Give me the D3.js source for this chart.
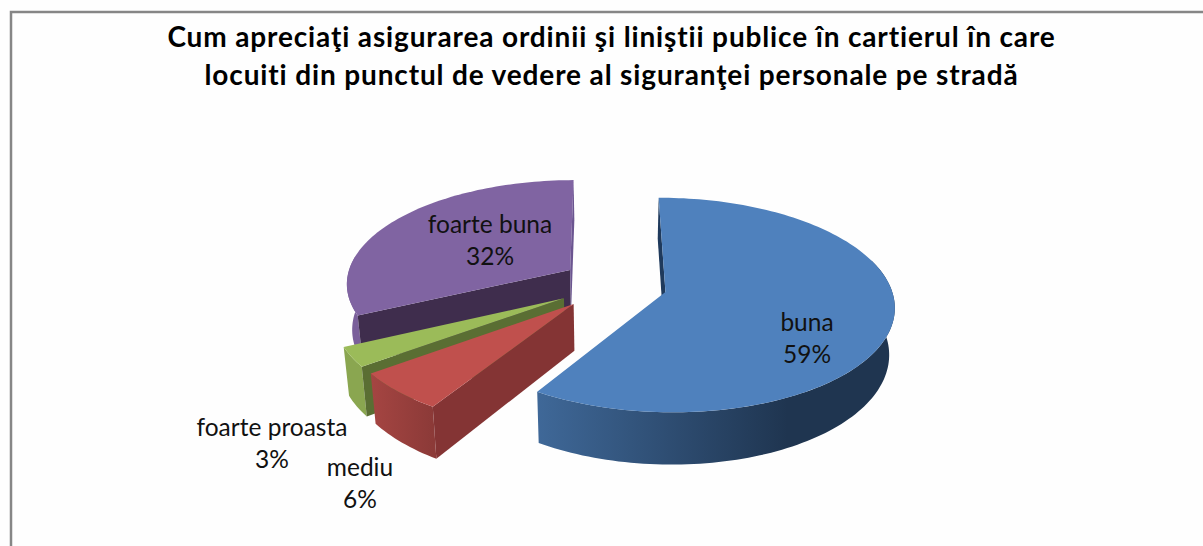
<!DOCTYPE html>
<html><head><meta charset="utf-8">
<script src="https://cdn.jsdelivr.net/npm/d3@7"></script>
<style>html,body{margin:0;padding:0;background:#fefefe}svg{display:block}text{font-variant-ligatures:none}</style></head>
<body><div id="c"></div>
<script>
const categories = ["buna","mediu","foarte proasta","foarte buna"];
const percents = [59,6,3,32];
const titleLines = ["Cum apreciaţi asigurarea ordinii şi liniştii publice în cartierul în care","locuiti din punctul de vedere al siguranţei personale pe stradă"];
const topColors = ["#4f81bd","#c0504d","#9bbb59","#8064a2"];
const rimColorsA = ["#3f6898","#a54542","#8aa650","#7a5f9a"];
const rimColorsB = ["#1f3550","#8c3a38","#8aa650","#7a5f9a"];
const wallColors = ["#1f3a5c","#843434","#5a6e33","#3f2d4d"];
const explode = [0.245,0.245,0.245,0.24];
const nudge = [[0,0],[0,0],[0,0],[0.014,0.02]];
const labelPos = [[807,331],[360,476],[272,436],[490,233]];

const W=1203,H=546;
const svg=d3.select("#c").append("svg").attr("width",W).attr("height",H);
const defs=svg.append("defs");
svg.append("rect").attr("width",W).attr("height",H).attr("fill","#fefefe");
svg.append("path").attr("d",`M11 546V12H1203`).attr("fill","none").attr("stroke","#868686").attr("stroke-width",2.5);

const cx=612,cy=285,a=225,b=104,k=0.12,d=45.6,m=0.02;
function proj(u,v,z){const w=1+k*v;return [cx+a*u/w*(1-m*z), cy+(-b*v+d*z)/w];}
const pie=d3.pie().sort(null).value(x=>x).startAngle(-0.005).endAngle(2*Math.PI-0.005);
const arcs=pie(percents);
const line=d3.line();
function pt(i,t,r,z){const mid=(arcs[i].startAngle+arcs[i].endAngle)/2,e=explode[i];
  const u=nudge[i][0]+e*Math.sin(mid)+r*Math.sin(t),v=nudge[i][1]+e*Math.cos(mid)+r*Math.cos(t);return proj(u,v,z);}
function arcPts(i,t0,t1,z){const n=Math.max(2,Math.ceil(Math.abs(t1-t0)*40));
  return d3.range(n+1).map(j=>pt(i,t0+(t1-t0)*j/n,1,z));}
const g=svg.append("g");
[3,2,1,0].forEach(i=>{
  const A=arcs[i],s=A.startAngle,e=A.endAngle;
  const gp=g.append("g");
  const r0=Math.max(s,Math.PI/2*0.8),r1=Math.min(e,Math.PI*1.5*1.03);
  if(r1>r0){
    const top=arcPts(i,r0,r1,0),bot=arcPts(i,r0,r1,1).reverse();
    const id="rim"+i,xs=top.map(p=>p[0]);
    const gr=defs.append("linearGradient").attr("id",id).attr("gradientUnits","userSpaceOnUse")
      .attr("x1",d3.min(xs)).attr("x2",d3.max(xs)).attr("y1",0).attr("y2",0);
    gr.append("stop").attr("offset","0").attr("stop-color",rimColorsA[i]);
    gr.append("stop").attr("offset",i===0?"0.7":"1").attr("stop-color",rimColorsB[i]);
    gp.append("path").attr("d",line(top.concat(bot))+"Z").attr("fill",`url(#${id})`);
  }
  const wall=t=>[pt(i,t,0,0),pt(i,t,1,0),pt(i,t,1,1),pt(i,t,0,1)];
  gp.append("path").attr("d",line(wall(s))+"Z").attr("fill",wallColors[i]);
  const topFace=[pt(i,s,0,0)].concat(arcPts(i,s,e,0));
  gp.append("path").attr("d",line(topFace)+"Z").attr("fill",topColors[i]);
  if(i===3) gp.append("path").attr("d",line(wall(e))+"Z").attr("fill","#6b5590");
});
const titleX=[611.5,611.5],titleY=[47,85];
const title=svg.append("g").attr("font-family","Lato").attr("font-weight",700).attr("font-size",28).attr("letter-spacing",0.86).attr("text-anchor","middle").attr("fill","#000");
titleLines.forEach((t,i)=>title.append("text").attr("x",titleX[i]).attr("y",titleY[i]).text(t));
const lab=svg.append("g").attr("font-family","Lato").attr("font-size",24.5).attr("text-anchor","middle").attr("fill","#111");
categories.forEach((c,i)=>{
  lab.append("text").attr("x",labelPos[i][0]).attr("y",labelPos[i][1]).text(c);
  lab.append("text").attr("x",labelPos[i][0]).attr("y",labelPos[i][1]+32).text(percents[i]+"%");
});
</script></body></html>
